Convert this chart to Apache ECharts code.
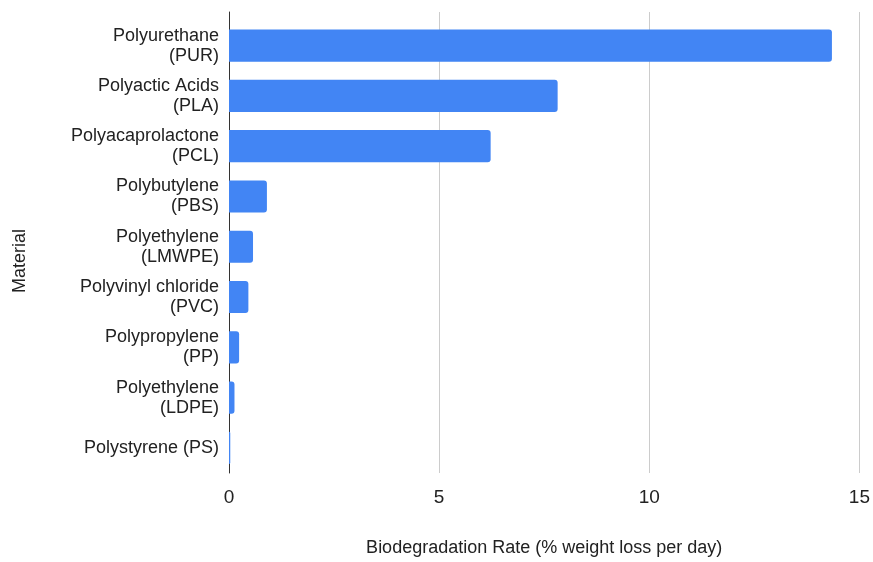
<!DOCTYPE html>
<html>
<head>
<meta charset="utf-8">
<script src="https://cdn.jsdelivr.net/npm/echarts@6/dist/echarts.min.js"></script>
<style>
    html, body {margin: 0; padding: 0; background: #fff;}
    #main {width: 873px; height: 562px;}
</style>
</head>
<body>
<div id="main"></div>
<script>
var materials = [
    'Polyurethane\n(PUR)',
    'Polyactic Acids\n(PLA)',
    'Polyacaprolactone\n(PCL)',
    'Polybutylene\n(PBS)',
    'Polyethylene\n(LMWPE)',
    'Polyvinyl chloride\n(PVC)',
    'Polypropylene\n(PP)',
    'Polyethylene\n(LDPE)',
    'Polystyrene (PS)'
];
var rates = [14.31, 7.8, 6.21, 0.9, 0.57, 0.46, 0.24, 0.13, 0.03];
var xTicks = [0, 5, 10, 15];

var fontFamily = '"Liberation Sans", Arial, sans-serif';
var chart = echarts.init(document.getElementById('main'));

var option = {
    animation: false,
    textStyle: {fontFamily: fontFamily},
    grid: [
        // frame: gridlines + zero line
        {left: 229, right: 12, top: 12, height: 468},
        // bars
        {left: 229, right: 12, top: 20.5, height: 452.5}
    ],
    graphic: [{
        type: 'text',
        x: 20,
        y: 261,
        rotation: Math.PI / 2,
        style: {
            text: 'Material',
            fontSize: 18,
            fontFamily: fontFamily,
            fill: '#222',
            align: 'center',
            verticalAlign: 'middle'
        }
    }],
    xAxis: [
        {
            gridIndex: 0,
            type: 'value',
            min: xTicks[0],
            max: xTicks[xTicks.length - 1],
            interval: 5,
            axisLine: {show: false},
            axisTick: {show: false},
            splitLine: {lineStyle: {color: '#cccccc', width: 1}},
            axisLabel: {color: '#222', fontSize: 19, margin: 15},
            name: 'Biodegradation Rate (% weight loss per day)',
            nameLocation: 'middle',
            nameGap: 66,
            nameTextStyle: {color: '#222', fontSize: 18}
        },
        {
            gridIndex: 1,
            type: 'value',
            min: xTicks[0],
            max: xTicks[xTicks.length - 1],
            show: false
        }
    ],
    yAxis: [
        {
            gridIndex: 0,
            type: 'value',
            axisLine: {show: true, onZero: false, lineStyle: {color: '#333', width: 1}},
            axisTick: {show: false},
            axisLabel: {show: false},
            splitLine: {show: false}
        },
        {
            gridIndex: 1,
            type: 'category',
            inverse: true,
            data: materials,
            axisLine: {show: false},
            axisTick: {show: false},
            axisLabel: {
                color: '#222',
                fontSize: 18,
                lineHeight: 20,
                margin: 10,
                align: 'right'
            }
        }
    ],
    series: [{
        type: 'bar',
        xAxisIndex: 1,
        yAxisIndex: 1,
        data: rates,
        barCategoryGap: '36%',
        itemStyle: {color: '#4285f4', borderRadius: [0, 3, 3, 0]}
    }]
};

chart.setOption(option);
</script>
</body>
</html>
